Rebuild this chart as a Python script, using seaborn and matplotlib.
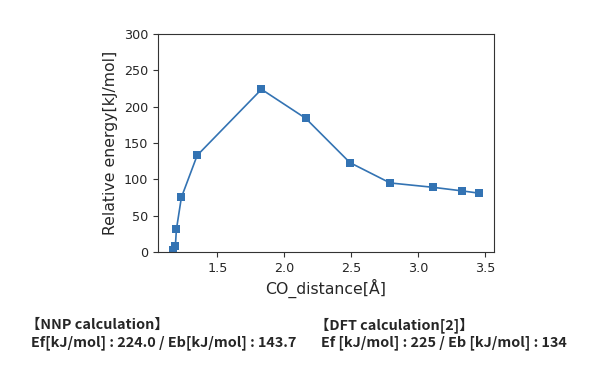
import numpy as np
import pandas as pd
import seaborn as sns
import matplotlib.pyplot as plt

# values
co_distance = [1.17, 1.187, 1.195, 1.232, 1.35, 1.83, 2.16, 2.49, 2.79, 3.11, 3.33, 3.45]
rel_energy = [3, 8, 31, 75, 133, 224, 184, 123, 95, 89, 84, 81]

nnp_title = "【NNP calculation】"
nnp_text = "Ef[kJ/mol] : 224.0 / Eb[kJ/mol] : 143.7"
dft_title = "【DFT calculation[2]】"
dft_text = "Ef [kJ/mol] : 225 / Eb [kJ/mol] : 134"

df = pd.DataFrame({"CO_distance": co_distance, "energy": rel_energy})

sns.set_style("ticks")
plt.rcParams['font.family'] = ['DejaVu Sans']

fig = plt.figure(figsize=(6, 3.71), dpi=100)
ax = fig.add_axes([0.263, 0.321, 0.56, 0.587])

sns.lineplot(data=df, x="CO_distance", y="energy", ax=ax, color="#3373b3",
             marker="s", markersize=6, markeredgewidth=0, linewidth=1.2)

ax.set_ylim(0, 300)
ax.set_xticks([1.5, 2.0, 2.5, 3.0, 3.5])
ax.set_xlabel("CO_distance[Å]", fontsize=11.3, labelpad=3)
ax.set_ylabel("Relative energy[kJ/mol]", fontsize=11.3, labelpad=4)
ax.tick_params(labelsize=9.2, direction="out", length=3.5, color="#333333")
for s in ax.spines.values():
    s.set_visible(True)
    s.set_color("#333333")
    s.set_linewidth(0.8)

cjk = ['Noto Sans CJK JP', 'DejaVu Sans']
kw = dict(family=cjk, fontsize=10.4, weight="bold", va="center", ha="left")
fig.text(26 / 600, 1 - 325 / 371, nnp_title, **kw)
fig.text(31 / 600, 1 - 343 / 371, nnp_text, **kw)
fig.text(315 / 600, 1 - 325 / 371, dft_title, **kw)
fig.text(321 / 600, 1 - 343 / 371, dft_text, **kw)

fig.savefig("out.png", dpi=100)
